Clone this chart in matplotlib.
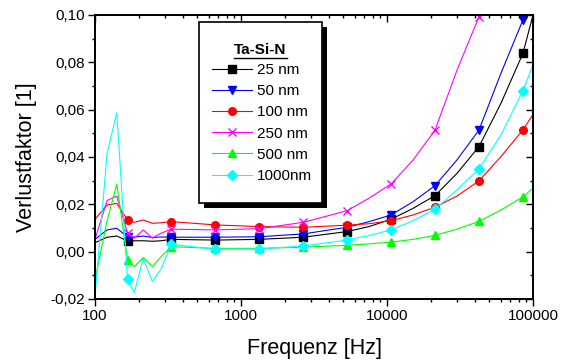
import numpy as np
import matplotlib
matplotlib.use("Agg")
import matplotlib.pyplot as plt
from matplotlib.ticker import FuncFormatter, MultipleLocator, LogLocator, NullFormatter
from matplotlib.patches import Rectangle
from matplotlib.lines import Line2D

plt.rcParams['font.family'] = ['Liberation Sans', 'DejaVu Sans']

# frequencies of the plotted points (Hz)
freq = [100, 121, 141, 167, 186, 214, 247, 283, 333, 667, 1333, 2667, 5333,
        7542, 10667, 15085, 21333, 30170, 42667, 60340, 85333, 100000]
# indices of the points that carry a marker
marker_idx = [3, 8, 9, 10, 11, 12, 14, 16, 18, 20]

nm25 = [0.0038, 0.0061, 0.0066, 0.0046, 0.0046, 0.0046, 0.0044, 0.0046, 0.0052, 0.0049, 0.0052,
        0.0061, 0.0085, 0.0106, 0.0137, 0.0183, 0.0237, 0.0331, 0.0444, 0.0627, 0.0838, 0.100]
nm50 = [0.0052, 0.0092, 0.0099, 0.0062, 0.0062, 0.0066, 0.0060, 0.0062, 0.0061, 0.0061, 0.0063,
        0.0075, 0.0103, 0.0127, 0.0155, 0.0211, 0.0279, 0.0388, 0.0514, 0.0754, 0.0979, 0.113]
nm100 = [0.0137, 0.0197, 0.0204, 0.0134, 0.0124, 0.0134, 0.0120, 0.0122, 0.0127, 0.0113, 0.0106,
         0.0103, 0.0112, 0.0118, 0.0131, 0.0155, 0.0188, 0.0235, 0.0299, 0.0402, 0.0514, 0.058]
nm250 = [0.0052, 0.0216, 0.0235, 0.0078, 0.0057, 0.0092, 0.0057, 0.0078, 0.0095, 0.0092, 0.0097,
         0.0124, 0.0173, 0.0226, 0.0286, 0.0387, 0.0514, 0.0767, 0.0993, 0.16, np.nan, np.nan]
nm500 = [-0.012, 0.013, 0.0286, -0.0035, -0.0063, -0.0024, -0.0063, -0.0022, 0.0021, 0.0014, 0.0014,
         0.0019, 0.0027, 0.0033, 0.0040, 0.0052, 0.0069, 0.0095, 0.0128, 0.0176, 0.0232, 0.0268]
nm1000 = [-0.019, 0.0416, 0.0587, -0.0117, -0.0173, -0.0028, -0.0127, -0.0074, 0.0031, 0.0010, 0.0011,
          0.0024, 0.0049, 0.0068, 0.0092, 0.0131, 0.0179, 0.0261, 0.0350, 0.0493, 0.0680, 0.079]

labels = ['25 nm', '50 nm', '100 nm', '250 nm', '500 nm', '1000nm']
colors = ['black', '#0000ff', '#ff0000', '#ff00ff', '#00ff00', '#00ffff']
markers = ['s', 'v', 'o', 'x', '^', 'D']
msizes = [5.5, 6, 5.5, 5.5, 6, 5]
series = [nm25, nm50, nm100, nm250, nm500, nm1000]

W, H = 562, 360


def px(x, y):
    # pixel position (top-left origin) -> figure fraction
    return x / W, 1 - y / H


fig = plt.figure(figsize=(W / 100, H / 100), dpi=100)
ax = fig.add_axes([95 / W, 61 / H, 438 / W, 284 / H])

handles = []
for vals, lab, c, m, ms in zip(series, labels, colors, markers, msizes):
    ln, = ax.plot(freq, vals, color=c, lw=0.8, marker=m, markersize=ms,
                  markevery=marker_idx, mew=1.0, label=lab)
    handles.append(ln)

ax.set_xscale('log')
ax.set_xlim(100, 100000)
ax.set_ylim(-0.02, 0.10)
ax.yaxis.set_major_locator(MultipleLocator(0.02))
ax.yaxis.set_minor_locator(MultipleLocator(0.01))
ax.yaxis.set_major_formatter(FuncFormatter(lambda v, p: f"{v:.2f}".replace('.', ',')))
ax.xaxis.set_major_locator(LogLocator(base=10))
ax.xaxis.set_minor_locator(LogLocator(base=10, subs=np.arange(2, 10)))
ax.xaxis.set_major_formatter(FuncFormatter(lambda v, p: f"{v:.0f}"))
ax.xaxis.set_minor_formatter(NullFormatter())
ax.tick_params(which='major', direction='out', length=5, width=1, labelsize=11, pad=2)
ax.tick_params(which='minor', direction='out', length=2.5, width=1)
for s in ax.spines.values():
    s.set_linewidth(1.1)

# mirrored ticks pointing inward on top and right
axr = ax.twinx()
axr.set_ylim(-0.02, 0.10)
axr.yaxis.set_major_locator(MultipleLocator(0.02))
axr.yaxis.set_minor_locator(MultipleLocator(0.01))
axr.tick_params(which='both', direction='in', labelright=False, width=1)
axr.tick_params(which='major', length=5)
axr.tick_params(which='minor', length=2.5)
axt = ax.twiny()
axt.set_xscale('log')
axt.set_xlim(100, 100000)
axt.xaxis.set_minor_locator(LogLocator(base=10, subs=np.arange(2, 10)))
axt.xaxis.set_minor_formatter(NullFormatter())
axt.tick_params(which='both', direction='in', labeltop=False, width=1)
axt.tick_params(which='major', length=5)
axt.tick_params(which='minor', length=2.5)
for a in (axr, axt):
    for s in a.spines.values():
        s.set_linewidth(1.1)

ax.set_xlabel('Frequenz [Hz]', fontsize=15.5, labelpad=11)
ax.set_ylabel('Verlustfaktor [1]', fontsize=15.5, labelpad=10)

# legend box with shadow
x0, y0, x1, y1 = 199, 22, 322, 203
sx, sy = px(x0 + 5, y1 + 5)
fig.patches.append(Rectangle((sx, sy), (x1 - x0) / W, (y1 - y0) / H,
                             transform=fig.transFigure, facecolor='black', edgecolor='none', zorder=2))
bx, by = px(x0, y1)
fig.patches.append(Rectangle((bx, by), (x1 - x0) / W, (y1 - y0) / H,
                             transform=fig.transFigure, facecolor='white', edgecolor='black',
                             lw=1.2, zorder=3))
tx, ty = px(260, 50)
fig.text(tx, ty, 'Ta-Si-N', fontsize=11, fontweight='bold', ha='center', va='center', zorder=4)
ux0, uy = px(234, 58)
ux1, _ = px(287, 58)
fig.lines.append(Line2D([ux0, ux1], [uy, uy], transform=fig.transFigure, color='black', lw=1, zorder=4))

fig.legend(handles=handles, loc='upper left', bbox_to_anchor=px(212, 63),
           bbox_transform=fig.transFigure, frameon=False, fontsize=11,
           handlelength=2.6, handletextpad=0.35, labelspacing=0.47,
           borderpad=0, borderaxespad=0, numpoints=1)

fig.savefig('out.png', dpi=100)
